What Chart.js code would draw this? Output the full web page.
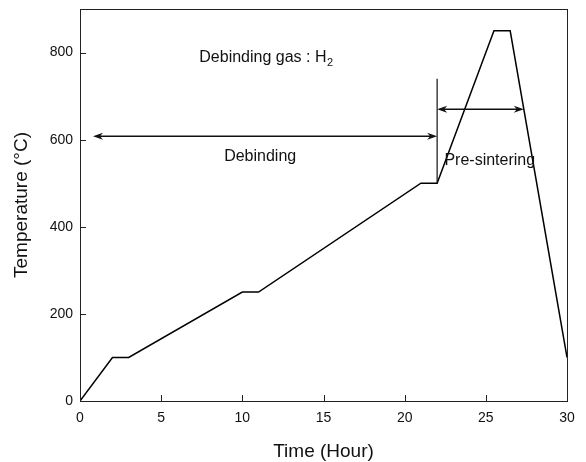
<!DOCTYPE html>
<html>
<head>
<meta charset="utf-8">
<script src="https://cdn.jsdelivr.net/npm/chart.js@4.4.0/dist/chart.umd.min.js"></script>
<style>
  html, body { margin: 0; padding: 0; background: #fff; }
  #wrap { width: 586px; height: 462px; }
</style>
</head>
<body>
<div id="wrap"><canvas id="chart"></canvas></div>
<script>
// Heating profile (time in hours, temperature in °C)
const timeHours = [0, 2, 3, 10, 11, 21, 22, 25.5, 26.5, 30];
const tempC = [0, 100, 100, 250, 250, 500, 500, 850, 850, 100];
const xTicks = [0, 5, 10, 15, 20, 25, 30];
const yTicks = [0, 200, 400, 600, 800];

// Annotations, in data units
const debindArrow = { from: 0.8, to: 22, temp: 608 };
const stageMarker = { time: 22, from: 500, to: 740 };
const sinterArrow = { from: 22, to: 27.34, temp: 670 };
const gasLabel = { time: 7.35, temp: 788, text: 'Debinding gas : H', sub: '2' };
const debindLabel = { time: 11.1, temp: 561, text: 'Debinding' };
const sinterLabel = { time: 22.45, temp: 551, text: 'Pre-sintering' };

const INK = '#111';
Chart.defaults.font.family = '"Liberation Sans", Arial, sans-serif';
Chart.defaults.color = INK;

function arrowHead(ctx, tx, ty, dir) {
  const L = 10, W = 3.5, N = 7;
  ctx.beginPath();
  ctx.moveTo(tx, ty);
  ctx.lineTo(tx - dir * L, ty - W);
  ctx.lineTo(tx - dir * N, ty);
  ctx.lineTo(tx - dir * L, ty + W);
  ctx.closePath();
  ctx.fill();
}

function hArrow(ctx, x, y, a) {
  const x1 = x.getPixelForValue(a.from), x2 = x.getPixelForValue(a.to);
  const py = y.getPixelForValue(a.temp);
  ctx.beginPath();
  ctx.moveTo(x1 + 6, py);
  ctx.lineTo(x2 - 6, py);
  ctx.stroke();
  arrowHead(ctx, x1, py, -1);
  arrowHead(ctx, x2, py, 1);
}

const annotate = {
  id: 'annotate',
  afterDatasetsDraw(chart) {
    const { ctx, chartArea: a, scales: { x, y } } = chart;
    ctx.save();
    ctx.strokeStyle = '#222';
    ctx.lineWidth = 1;
    ctx.strokeRect(Math.round(a.left) + 0.5, Math.round(a.top) + 0.5,
      Math.round(a.right - a.left), Math.round(a.bottom - a.top));

    // inward tick marks
    ctx.beginPath();
    xTicks.forEach(v => {
      const px = Math.round(x.getPixelForValue(v)) + 0.5;
      ctx.moveTo(px, a.bottom);
      ctx.lineTo(px, a.bottom - 6);
    });
    yTicks.forEach(v => {
      const py = Math.round(y.getPixelForValue(v)) + 0.5;
      ctx.moveTo(a.left, py);
      ctx.lineTo(a.left + 6, py);
    });
    ctx.stroke();

    // arrows and stage marker
    ctx.strokeStyle = INK;
    ctx.fillStyle = INK;
    ctx.lineWidth = 1.6;
    hArrow(ctx, x, y, debindArrow);
    hArrow(ctx, x, y, sinterArrow);
    ctx.lineWidth = 1.2;
    const mx = x.getPixelForValue(stageMarker.time);
    ctx.beginPath();
    ctx.moveTo(mx, y.getPixelForValue(stageMarker.from));
    ctx.lineTo(mx, y.getPixelForValue(stageMarker.to));
    ctx.stroke();

    // labels
    ctx.textBaseline = 'middle';
    ctx.font = '16px "Liberation Sans", Arial, sans-serif';
    ctx.textAlign = 'left';
    const gx = x.getPixelForValue(gasLabel.time), gy = y.getPixelForValue(gasLabel.temp);
    ctx.fillText(gasLabel.text, gx, gy);
    const gw = ctx.measureText(gasLabel.text).width;
    ctx.font = '11px "Liberation Sans", Arial, sans-serif';
    ctx.fillText(gasLabel.sub, gx + gw + 0.5, gy + 5);
    ctx.font = '16px "Liberation Sans", Arial, sans-serif';
    ctx.textAlign = 'center';
    ctx.fillText(debindLabel.text, x.getPixelForValue(debindLabel.time), y.getPixelForValue(debindLabel.temp));
    ctx.textAlign = 'left';
    ctx.fillText(sinterLabel.text, x.getPixelForValue(sinterLabel.time), y.getPixelForValue(sinterLabel.temp));
    ctx.restore();
  }
};

new Chart(document.getElementById('chart'), {
  type: 'line',
  data: {
    datasets: [{
      data: timeHours.map((t, i) => ({ x: t, y: tempC[i] })),
      borderColor: '#000',
      borderWidth: 1.5,
      pointRadius: 0,
      tension: 0,
      fill: false
    }]
  },
  options: {
    responsive: true,
    maintainAspectRatio: false,
    animation: false,
    layout: { padding: { top: 9, right: 19, left: 0, bottom: 0 } },
    plugins: { legend: { display: false }, tooltip: { enabled: false } },
    scales: {
      x: {
        type: 'linear',
        min: 0, max: 30,
        grid: { display: false, drawTicks: false },
        border: { display: false },
        ticks: { stepSize: 5, padding: 9, font: { size: 14 }, color: INK },
        title: { display: true, text: 'Time (Hour)', font: { size: 19, lineHeight: 1 }, padding: { bottom: 1 }, color: INK },
        afterFit(s) { s.height = 61; s.paddingLeft = 0; s.paddingRight = 0; }
      },
      y: {
        min: 0, max: 900,
        grid: { display: false, drawTicks: false },
        border: { display: false },
        ticks: { stepSize: 200, includeBounds: false, padding: 7, font: { size: 14 }, color: INK },
        title: { display: true, text: 'Temperature (°C)', font: { size: 19, lineHeight: 1 }, padding: { top: 12 }, color: INK },
        afterFit(s) { s.width = 80; s.paddingTop = 0; s.paddingBottom = 0; }
      }
    }
  },
  plugins: [annotate]
});
</script>
</body>
</html>
